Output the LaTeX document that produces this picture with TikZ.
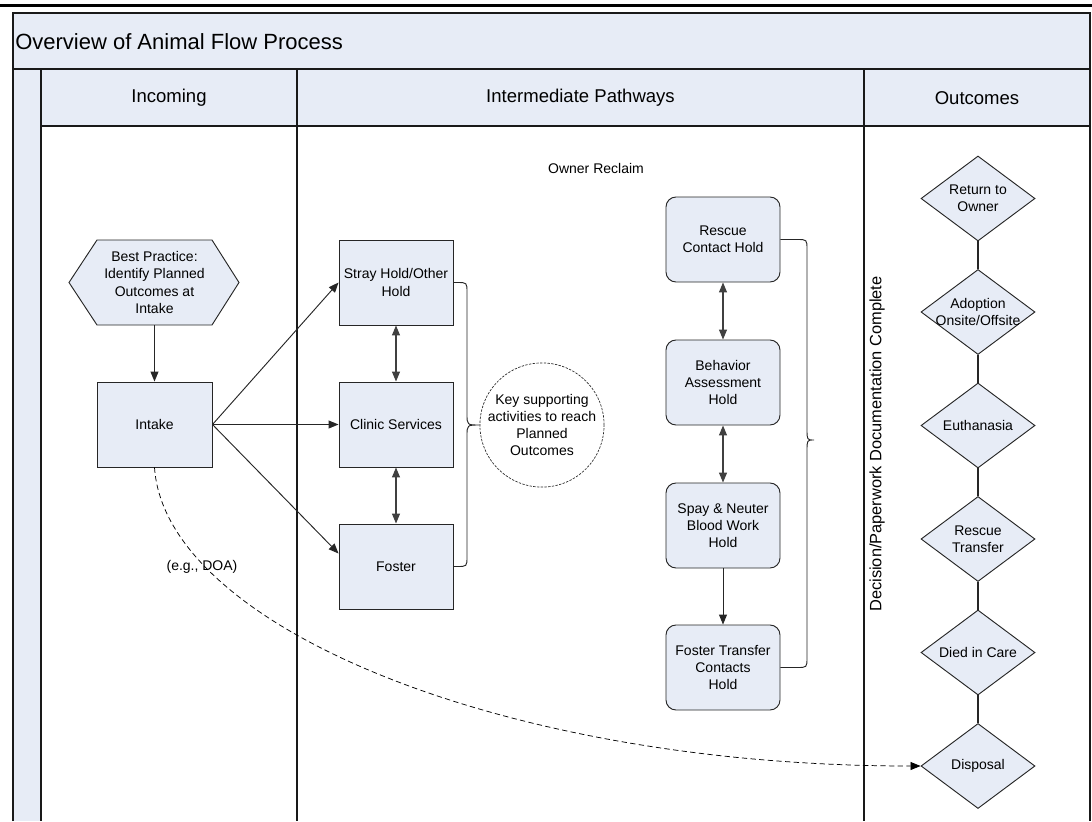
\documentclass[tikz,border=0pt]{standalone}
\usepackage{fontspec}
\setmainfont{Liberation Sans}
\usetikzlibrary{arrows.meta,shapes.geometric,calc}
\definecolor{lanefill}{RGB}{231,236,246}
\begin{document}
\begin{tikzpicture}[x=0.75pt,y=-0.75pt,
  body/.style={font=\fontsize{10.5}{12.9}\selectfont},
  procbox/.style={body, draw=black!85, fill=lanefill, line width=0.7pt, minimum width=85.5pt, minimum height=63.75pt, inner sep=1pt, align=center},
  roundbox/.style={procbox, rounded corners=7.5pt},
  outcome/.style={diamond, draw=black!85, fill=lanefill, line width=0.7pt, minimum width=85.5pt, minimum height=63.75pt, inner sep=0pt},
  otext/.style={body, align=center, inner sep=0pt},
  hdr/.style={font=\fontsize{13.9}{16}\selectfont, inner sep=0pt},
  arr/.style={-{Triangle[length=7.5pt,width=6pt]}, line width=0.7pt, black!85},
  darr/.style={{Triangle[length=7.5pt,width=6pt]}-{Triangle[length=7.5pt,width=6pt]}, line width=0.9pt, black!75},
  lane/.style={draw=black!90, line width=1pt},
  bracepath/.style={draw=black!85, line width=0.7pt},
]
\useasboundingbox (0,0) rectangle (1092,821);
% backgrounds
\fill[lanefill] (13,13) rectangle (1090,69);
\fill[lanefill] (13,69) rectangle (41,821);
\fill[lanefill] (41,69) rectangle (1090,126);
% top rule
\draw[line width=2pt] (0,5.3) -- (1092,5.3);
% frame and lanes
\draw[lane] (13,821) -- (13,13) -- (1090,13) -- (1090,821);
\draw[lane] (13,69) -- (1090,69);
\draw[lane] (41,126) -- (1090,126);
\draw[lane] (41,69) -- (41,821);
\draw[lane] (297,69) -- (297,821);
\draw[lane] (864,69) -- (864,821);
% titles
\node[anchor=west, font=\fontsize{16.5}{19}\selectfont, inner sep=0pt] (title) at (15,41.5) {Overview of Animal Flow Process};
\node[hdr] (hin) at (169,98) {Incoming};
\node[hdr] (hmid) at (580.5,98) {Intermediate Pathways};
\node[hdr] (hout) at (977,98) {Outcomes};
% hexagon
\draw[draw=black!85, fill=lanefill, line width=0.7pt] (97,240) -- (212,240) -- (239,282.5) -- (212,325) -- (97,325) -- (69,282.5) -- cycle;
\node[body, align=center, minimum width=86.25pt, minimum height=63.75pt, inner sep=0pt] (hex) at (154.5,282.5) {Best Practice:\\Identify Planned\\Outcomes at\\Intake};
% left boxes
\node[procbox, minimum width=86.25pt] (intake) at (154.5,424.5) {Intake};
\node[procbox] (stray) at (396,282.5) {Stray Hold/Other\\Hold};
\node[procbox] (clinic) at (396,424.5) {Clinic Services};
\node[procbox] (foster) at (396,566.5) {Foster};
\node[circle, draw=black!85, dash pattern=on 1.8pt off 1pt, line width=0.5pt, minimum size=91.5pt, inner sep=0pt, body, align=center] (key) at (542,425) {Key supporting\\activities to reach\\Planned\\Outcomes};
% right boxes
\node[roundbox] (rescue) at (723,239.5) {Rescue\\Contact Hold};
\node[roundbox] (behav) at (723,382.5) {Behavior\\Assessment\\Hold};
\node[roundbox] (spay) at (723,525.5) {Spay \& Neuter\\Blood Work\\Hold};
\node[roundbox] (ftrans) at (723,667.5) {Foster Transfer\\Contacts\\Hold};
% labels
\node[body, inner sep=0pt] (owner) at (596,168) {Owner Reclaim};
\node[body, inner sep=0pt] (doa) at (202,567) {(e.g., DOA)};
\node[font=\fontsize{12.3}{14}\selectfont, rotate=90, inner sep=0pt] (dec) at (877,444) {Decision/Paperwork Documentation Complete};
% outcomes
\node[outcome, label={[otext]center:Return to\\Owner}] (d1) at (978,198.5) {};
\node[outcome, label={[otext]center:Adoption\\Onsite/Offsite}] (d2) at (978,312) {};
\node[outcome, label={[otext]center:Euthanasia}] (d3) at (978,425.5) {};
\node[outcome, label={[otext]center:Rescue\\Transfer}] (d4) at (978,539) {};
\node[outcome, label={[otext]center:Died in Care}] (d5) at (978,652.5) {};
\node[outcome, label={[otext]center:Disposal}] (d6) at (978,766) {};
\foreach \a/\b in {d1/d2,d2/d3,d3/d4,d4/d5,d5/d6}
  \draw[line width=0.8pt, black!85] (\a.south) -- (\b.north);
% connectors
\draw[arr] (hex.south) -- (intake.north);
\draw[arr] (intake.east) -- (stray.west);
\draw[arr] (intake.east) -- (clinic.west);
\draw[arr] (intake.east) -- ($(foster.west)+(0,-13)$);
\draw[darr] (stray.south) -- (clinic.north);
\draw[darr] (clinic.south) -- (foster.north);
\draw[darr] (rescue.south) -- (behav.north);
\draw[darr] (behav.south) -- (spay.north);
\draw[arr] (spay.south) -- (ftrans.north);
% braces
\draw[bracepath] (stray.east) -- (457,282.5) .. controls (467,282.5) .. (467,292.5) -- (467,414) .. controls (467,425) .. (key.west) .. controls (467,425) .. (467,436) -- (467,556.5) .. controls (467,566.5) .. (457,566.5) -- (foster.east);
\draw[bracepath] (rescue.east) -- (797,239.5) .. controls (807,239.5) .. (807,249.5) -- (807,429) .. controls (807,440) .. (814,440) .. controls (807,440) .. (807,451) -- (807,657.5) .. controls (807,667.5) .. (797,667.5) -- (ftrans.east);
% dashed path
\draw[-{Triangle[length=7.5pt,width=6pt]}, line width=0.55pt, dash pattern=on 4pt off 2.5pt] (intake.south) .. controls (165,625) and (500,766) .. (d6.west);
\end{tikzpicture}
\end{document}
